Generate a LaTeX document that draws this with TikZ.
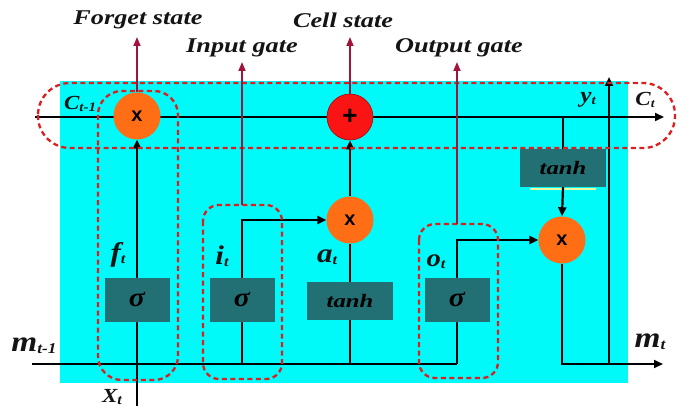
\documentclass[tikz,border=0pt]{standalone}
\usepackage{graphicx}
\usepackage{fontspec}
\setmainfont{Liberation Serif}
\newfontfamily\sansf{Liberation Sans}
\usetikzlibrary{arrows.meta,calc}
\definecolor{bgcyan}{RGB}{0,250,250}
\definecolor{boxteal}{RGB}{34,112,116}
\definecolor{orng}{RGB}{255,110,20}
\definecolor{redc}{RGB}{250,20,20}
\definecolor{darkred}{RGB}{160,20,60}
\definecolor{dashred}{RGB}{222,30,30}
\definecolor{paleyel}{RGB}{230,250,160}
\definecolor{inkc}{RGB}{20,20,20}
\newcommand{\hs}[2]{\scalebox{#1}[1]{#2}}
\newcommand{\sublab}[4]{\hs{1.15}{{\fontsize{#3}{#3}\selectfont #1}{\fontsize{#4}{#4}\selectfont\raisebox{-0.12em}{#2}}}}
\begin{document}
\begin{tikzpicture}[x=1pt,y=-1pt,
  line/.style={line width=2.2pt,black},
  arr/.style={line width=2.2pt,black,-{Triangle[length=9pt,width=8pt]}},
  garr/.style={line width=1.8pt,darkred,-{Triangle[length=9pt,width=7pt]}},
  mult/.style={circle,fill=orng,minimum size=47pt,inner sep=0pt,font=\sansf\bfseries\fontsize{20}{20}\selectfont},
  plusn/.style={circle,fill=redc,draw=red!70!black,line width=0.6pt,minimum size=46pt,inner sep=0pt,font=\sansf\bfseries\fontsize{26}{26}\selectfont},
  gatebox/.style={rectangle,fill=boxteal,minimum width=65pt,minimum height=44pt,inner sep=0pt,font=\bfseries\itshape\fontsize{27}{27}\selectfont},
  tanhbox/.style={rectangle,fill=boxteal,minimum width=86pt,minimum height=38pt,inner sep=0pt,font=\bfseries\itshape\fontsize{19}{19}\selectfont},
  lbl/.style={text=inkc,font=\bfseries\itshape\fontsize{21}{21}\selectfont,inner sep=0pt},
  var/.style={text=inkc,font=\bfseries\itshape,inner sep=0pt},
  dashbox/.style={dashred,line width=2.3pt,dash pattern=on 5pt off 3.5pt}
]
\useasboundingbox (0,0) rectangle (689,420);
\fill[bgcyan] (60,81) rectangle (628,383);

% coordinates
\coordinate (cin) at (35,117);
\coordinate (cout) at (664,117);
\coordinate (min) at (32,364);
\coordinate (mout) at (663,364);
\coordinate (xb) at (137,406);
\coordinate (yb) at (609,364);
\coordinate (ytop) at (609,77);
\coordinate (fstip) at (137,37);
\coordinate (cstip) at (350,37);
\coordinate (igtip) at (242,62);
\coordinate (ogtip) at (457,62);
\coordinate (igbot) at (242,205);
\coordinate (ogbot) at (457,224);

% lines under nodes
\draw[arr] (cin) -- (cout);
\draw[line] (min) -- (457,364);
\draw[line] (xb) -- (137,322);

% nodes
\node[mult] (fx) at (137,116) {x};
\node[plusn] (px) at (350,117) {+};
\node[mult] (ax) at (350,220) {x};
\node[mult] (ox) at (562,240) {x};
\node[gatebox] (fs) at (137,300) {\hs{1.1}{σ}};
\node[gatebox] (is) at (242,300) {\hs{1.1}{σ}};
\node[tanhbox] (at) at (350,301) {\hs{1.3}{tanh}};
\node[gatebox] (os) at (457,300) {\hs{1.1}{σ}};
\node[tanhbox] (ct) at (563,168) {\hs{1.3}{tanh}};
\draw[paleyel,line width=2pt] ($(ct.south west)+(10,2)$) -- ($(ct.south east)+(-10,2)$);

% connections
\draw[arr] (fs.north) -- (fx.south);
\draw[arr] (is.north) |- (ax.west);
\draw[line] (at.north) -- (ax.south);
\draw[arr] (ax.north) -- (px.south);
\draw[arr] (os.north) |- (ox.west);
\draw[line] (ct.north) -- (ct.north |- cin);
\draw[arr] (ct.south) -- (ox.north);
\draw[arr] (ox.south) |- (mout);
\draw[line] (is.south) -- (is.south |- min);
\draw[line] (at.south) -- (at.south |- min);
\draw[line] (os.south) -- (os.south |- min);
\draw[arr] (yb) -- (ytop);

% dashed outlines
\draw[dashbox,rounded corners=32pt] (38,83) rectangle (675,148);
\draw[dashbox,rounded corners=24pt] (98,91) rectangle (178,380);
\draw[dashbox,rounded corners=16pt] (203,205) rectangle (282,379);
\draw[dashbox,rounded corners=16pt] (419,224) rectangle (498,378);

% gate arrows
\draw[garr] (fx.north) -- (fstip);
\draw[garr] (px.north) -- (cstip);
\draw[garr] (igbot) -- (igtip);
\draw[garr] (ogbot) -- (ogtip);

% labels
\node[lbl] (lfs) at (138,20) {\hs{1.25}{Forget state}};
\node[lbl] (lcs) at (343,20) {\hs{1.25}{Cell state}};
\node[lbl] (lig) at (242,48) {\hs{1.25}{Input gate}};
\node[lbl] (log) at (459,48) {\hs{1.25}{Output gate}};
\node[var] (vc1) at (80,104) {\sublab{C}{t-1}{20}{13}};
\node[var] (vy) at (588,100) {\sublab{y}{t}{22}{13}};
\node[var] (vc) at (645,100) {\sublab{C}{t}{20}{12}};
\node[var] (vf) at (118,255) {\sublab{f}{t}{27}{14}};
\node[var] (vi) at (222,256) {\sublab{i}{t}{27}{14}};
\node[var] (va) at (327,257) {\sublab{a}{t}{27}{14}};
\node[var] (vo) at (436,262) {\sublab{o}{t}{25}{14}};
\node[var] (vm1) at (34,346) {\sublab{m}{t-1}{29}{15}};
\node[var] (vm) at (650,342) {\sublab{m}{t}{29}{15}};
\node[var] (vx) at (112,397) {\sublab{X}{t}{20}{14}};
\end{tikzpicture}
\end{document}
